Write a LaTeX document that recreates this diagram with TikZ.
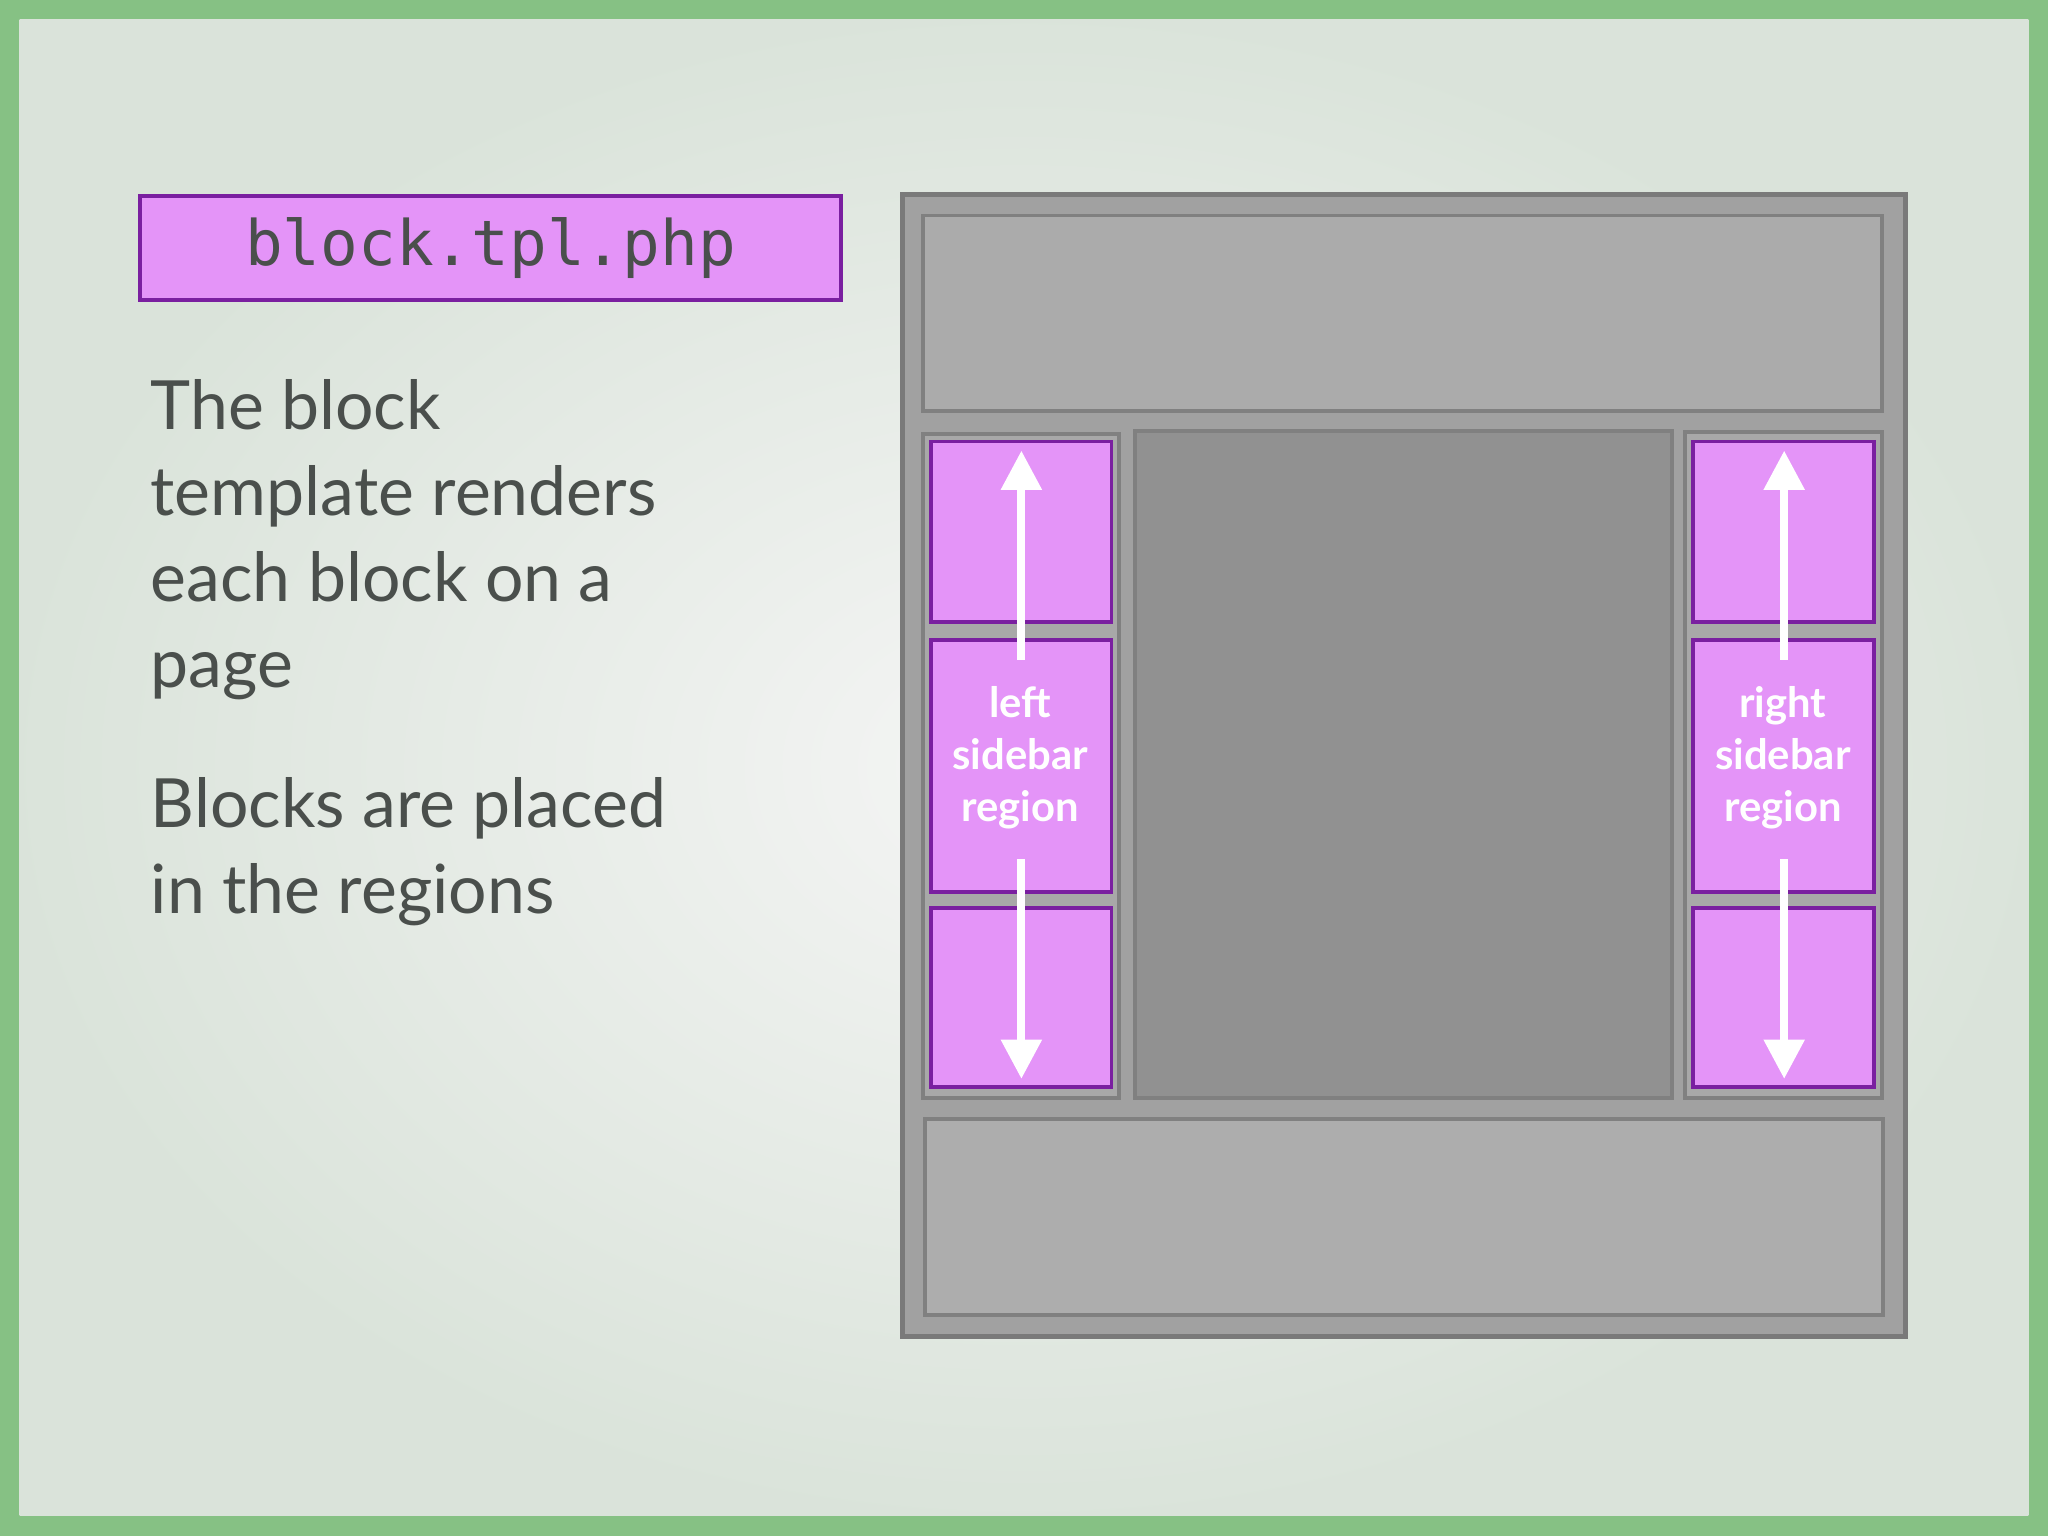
\documentclass[tikz,border=0pt]{standalone}
\usepackage{fontspec}
\setmainfont{Lato}
\newfontfamily\monofont{DejaVu Sans Mono}
\usetikzlibrary{arrows.meta,positioning}
\definecolor{pinkf}{HTML}{E494F8}
\definecolor{pinkd}{HTML}{7A1FA0}
\definecolor{txt}{HTML}{4A4F4C}
\definecolor{grn}{HTML}{86C184}
\tikzset{
  x=0.5pt,y=-0.5pt,
  box/.style={draw=#1,line width=1.5pt},
  blk/.style={fill=pinkf,draw=pinkd,line width=1.5pt},
  arr/.style={draw=white,line width=3pt,-{Triangle[width=15pt,length=15pt]}},
  lab/.style={text=white,font=\fontsize{16}{20}\selectfont\bfseries,align=center},
  body/.style={text=txt,font=\fontsize{26}{33}\selectfont,align=left,anchor=north west,inner sep=0pt}
}
\begin{document}
\begin{tikzpicture}
\useasboundingbox (0,0) rectangle (1568,1176);
\fill[grn] (0,0) rectangle (1568,1176);
\shade[inner color=white!60!green!5!gray!8, outer color=black!5!green!15!gray!25] (15,15) rectangle (1553,1160);
% title box
\node[blk,minimum width=268.5pt,minimum height=40pt,inner sep=0pt,text=txt,font=\monofont\fontsize{24}{28}\selectfont] (title) at (375.5,190) {block.tpl.php};
\node[body] (t1) at (115,290) {The block\\template renders\\each block on a\\page};
\node[body] (t2) at (115,595) {Blocks are placed\\in the regions};
% page
\filldraw[fill=black!37,draw=black!52,line width=2pt] (691,149) rectangle (1459,1023);
\filldraw[fill=black!33,draw=black!50,line width=1.5pt] (707,165) rectangle (1441,315);
\filldraw[fill=black!34,draw=black!50,line width=1.5pt] (707,332) rectangle (857,841);
\filldraw[fill=black!43,draw=black!50,line width=1.5pt] (869,330) rectangle (1280,841);
\filldraw[fill=black!34,draw=black!50,line width=1.5pt] (1290,331) rectangle (1441,841);
\filldraw[fill=black!32,draw=black!50,line width=1.5pt] (708,857) rectangle (1442,1007);
% blocks
\draw[blk] (713,338) rectangle (851,476);
\draw[blk] (713,490) rectangle (851,683);
\draw[blk] (713,695) rectangle (851,832);
\draw[blk] (1296,338) rectangle (1435,476);
\draw[blk] (1296,490) rectangle (1435,683);
\draw[blk] (1296,695) rectangle (1435,832);
% arrows
\coordinate (la1) at (782,505); \coordinate (la2) at (782,345);
\coordinate (lb1) at (782,658); \coordinate (lb2) at (782,826);
\coordinate (ra1) at (1366,505); \coordinate (ra2) at (1366,345);
\coordinate (rb1) at (1366,658); \coordinate (rb2) at (1366,826);
\draw[arr] (la1) -- (la2);
\draw[arr] (lb1) -- (lb2);
\draw[arr] (ra1) -- (ra2);
\draw[arr] (rb1) -- (rb2);
\node[lab] (ll) at (781,580) {left\\sidebar\\region};
\node[lab] (rl) at (1365,580) {right\\sidebar\\region};
\end{tikzpicture}
\end{document}
